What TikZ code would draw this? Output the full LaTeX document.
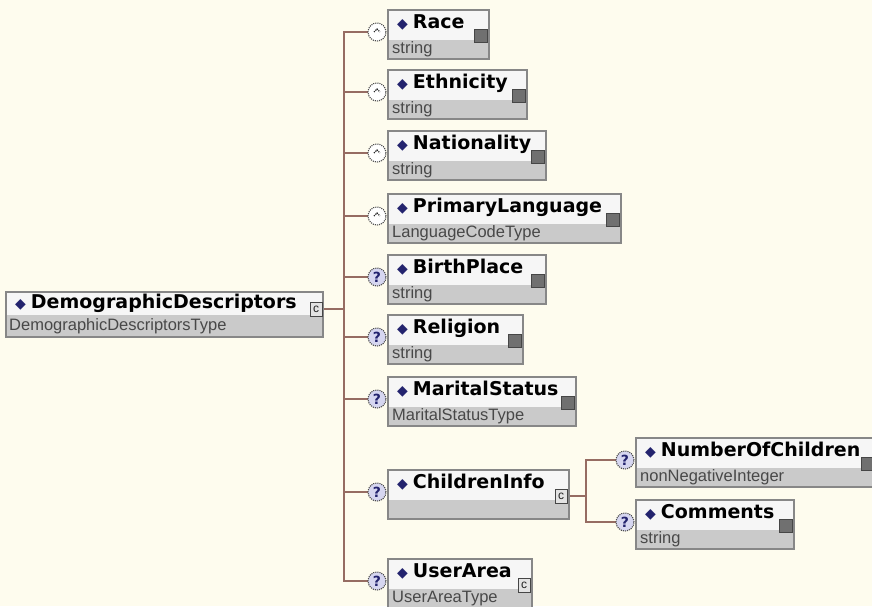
\documentclass[tikz,border=0pt]{standalone}
\usepackage{fontspec}
\setmainfont{Liberation Sans}
\newfontfamily\titlefont{DejaVu Sans}
\usetikzlibrary{backgrounds}

\definecolor{paper}{RGB}{254,252,238}
\definecolor{boxline}{RGB}{135,135,135}
\definecolor{rowtop}{RGB}{246,246,246}
\definecolor{rowbot}{RGB}{202,202,202}
\definecolor{treeline}{RGB}{150,108,98}
\definecolor{navy}{RGB}{35,35,110}
\definecolor{typegray}{RGB}{72,72,72}
\definecolor{iconfill}{RGB}{112,112,112}
\definecolor{qfill}{RGB}{214,214,240}

\newcommand{\diam}{{\titlefont\fontsize{14}{14}\selectfont\color{navy}◆}}

% one schema element: name, x, y, width, title, type, icon style, occurrence style
\newcommand{\xsdelem}[8]{%
  \node[elbox, minimum width=#4pt, minimum height=49pt] (#1) at (#2,#3) {};
  \node[eltitle] (#1-t) at ([xshift=9pt,yshift=-18pt]#1.north west) {\diam\hspace{5pt}#5};
  \node[eltype] (#1-y) at ([xshift=4pt,yshift=-43pt]#1.north west) {#6};
  \node[#7] (#1-i) at ([xshift=-2pt,yshift=-19pt]#1.north east) {};
  \node[#8] (#1-o) at ([xshift=-11pt,yshift=-22pt]#1.north west) {};
}

\tikzset{
  elbox/.style={draw=boxline, line width=1.3pt, fill=rowtop, inner sep=0pt, outer sep=0pt,
    anchor=north west,
    path picture={\fill[rowbot] ([yshift=-#1pt]path picture bounding box.north west)
      rectangle (path picture bounding box.south east);}},
  elbox/.default=30,
  eltitle/.style={font=\titlefont\bfseries\fontsize{19}{19}\selectfont, inner sep=0pt, anchor=base west},
  eltype/.style={font=\fontsize{16.5}{16.5}\selectfont, text=typegray, inner sep=0pt, anchor=base west},
  sicon/.style={fill=iconfill, draw=gray!55!black, line width=0.6pt, minimum size=13pt,
    inner sep=0pt, outer sep=0pt, anchor=north east},
  cicon/.style={fill=gray!22, draw=gray!55!black, line width=0.8pt, minimum width=12pt,
    minimum height=14pt, inner sep=0pt, outer sep=0pt, anchor=north east,
    path picture={\node[anchor=center, font=\fontsize{12}{12}\selectfont, text=gray!25!black, inner sep=0pt]
      at (path picture bounding box.center) {c};}},
  occbase/.style={circle, draw=gray!60!black, densely dotted, line width=1.1pt,
    minimum size=18pt, inner sep=0pt, outer sep=0pt},
  optq/.style={occbase, fill=qfill,
    path picture={\node[anchor=center, font=\titlefont\bfseries\fontsize{14}{14}\selectfont, text=navy, inner sep=0pt]
      at (path picture bounding box.center) {?};}},
  optn/.style={occbase, fill=white,
    path picture={\draw[line width=1.1pt, gray!30!black]
      ([xshift=-3pt,yshift=0pt]path picture bounding box.center) --
      ([yshift=3pt]path picture bounding box.center) --
      ([xshift=3pt,yshift=0pt]path picture bounding box.center);}},
  tree/.style={draw=treeline, line width=1.4pt}
}

\begin{document}
\begin{tikzpicture}[x=1pt, y=-1pt]
  \clip (0,0) rectangle (872,606);

  % root element
  \node[elbox=23, minimum width=317pt, minimum height=45pt] (dd) at (6,292) {};
  \node[eltitle] (dd-t) at ([xshift=9pt,yshift=-16pt]dd.north west) {\diam\hspace{5pt}DemographicDescriptors};
  \node[eltype] (dd-y) at ([xshift=3pt,yshift=-38pt]dd.north west) {DemographicDescriptorsType};
  \node[cicon] (dd-i) at ([xshift=-1pt,yshift=-10pt]dd.north east) {};

  % children of the root sequence
  \xsdelem{race}{388}{10}{101}{Race}{string}{sicon}{optn}
  \xsdelem{eth}{388}{70}{139}{Ethnicity}{string}{sicon}{optn}
  \xsdelem{nat}{388}{131}{158}{Nationality}{string}{sicon}{optn}
  \xsdelem{lang}{388}{194}{233}{PrimaryLanguage}{LanguageCodeType}{sicon}{optn}
  \xsdelem{birth}{388}{255}{158}{BirthPlace}{string}{sicon}{optq}
  \xsdelem{rel}{388}{315}{135}{Religion}{string}{sicon}{optq}
  \xsdelem{mar}{388}{377}{188}{MaritalStatus}{MaritalStatusType}{sicon}{optq}
  \xsdelem{ci}{388}{470}{181}{ChildrenInfo}{}{cicon}{optq}
  \xsdelem{ua}{388}{559}{144}{UserArea}{UserAreaType}{cicon}{optq}

  % children of ChildrenInfo
  \xsdelem{noc}{636}{438}{240}{NumberOfChildren}{nonNegativeInteger}{sicon}{optq}
  \xsdelem{com}{636}{500}{158}{Comments}{string}{sicon}{optq}

  \begin{scope}[on background layer]
    \fill[paper] (0,0) rectangle (872,606);
    \coordinate (j1) at ([xshift=22pt]dd-i.east);
    \draw[tree] (dd-i.east) -- (j1);
    \foreach \n in {race,eth,nat,lang,birth,rel,mar,ci,ua}
      \draw[tree] (j1) |- (\n-o.west);
    \coordinate (j2) at ([xshift=19pt]ci-i.east);
    \draw[tree] (ci-i.east) -- (j2);
    \foreach \n in {noc,com}
      \draw[tree] (j2) |- (\n-o.west);
  \end{scope}
\end{tikzpicture}
\end{document}
